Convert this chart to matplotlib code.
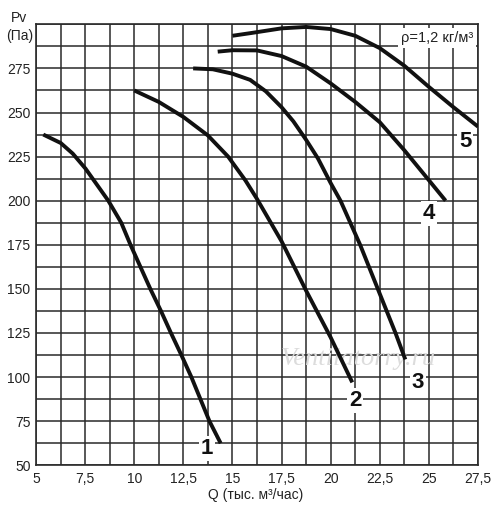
import matplotlib
matplotlib.use('Agg')
import matplotlib.pyplot as plt

plt.rcParams['font.family'] = ['Liberation Sans', 'DejaVu Sans']

# curves, Q in thousand m3/h, Pv in Pa
q1 = [5.37, 6.26, 6.87, 7.52, 8.68, 9.34, 9.81, 10.82, 11.36, 11.87, 12.4, 12.91, 13.37, 13.83, 14.4]
p1 = [237.5, 232.7, 226.7, 218.2, 200, 187.5, 175, 150, 137.5, 125, 112.5, 100, 87.5, 75, 62.5]

q2 = [10, 11.25, 12.5, 13.75, 14.78, 15.66, 16.25, 17.5, 18.75, 20, 21.1]
p2 = [262.5, 256, 247.5, 237, 225, 211.5, 201, 177, 149, 122.5, 97]

q3 = [13, 14, 15, 15.9, 16.7, 17.5, 18.1, 18.75, 19.35, 20, 20.5, 21.0, 21.5, 21.95, 22.4, 22.85, 23.3, 23.8]
p3 = [275, 274.5, 272, 268.5, 262, 253, 245, 234.5, 224, 210, 200, 187.5, 175, 162.5, 150, 137.5, 125, 110]

q4 = [14.25, 15, 16.25, 17.5, 18.75, 20, 21.25, 22.5, 23.75, 25, 25.85]
p4 = [284.5, 285.3, 285.2, 282, 276, 266.5, 256, 244.5, 228.6, 211.6, 200]

q5 = [15, 15.92, 17.5, 18.75, 20, 21.25, 22.5, 23.75, 25, 26.25, 27.5]
p5 = [293.5, 295, 297.7, 298.5, 297.3, 293.5, 286.5, 276.5, 264.5, 253, 242]

# curve numbers and where they sit
curve_names = ['1', '2', '3', '4', '5']
name_q = [13.7, 21.25, 24.45, 25.0, 26.85]
name_p = [59.5, 86.5, 97, 193, 233.5]

x_ticks = [5, 7.5, 10, 12.5, 15, 17.5, 20, 22.5, 25, 27.5]
x_labels = ['5', '7,5', '10', '12,5', '15', '17,5', '20', '22,5', '25', '27,5']
y_ticks = [50, 75, 100, 125, 150, 175, 200, 225, 250, 275]
y_labels = ['50', '75', '100', '125', '150', '175', '200', '225', '250', '275']

W, H = 500, 518
fig = plt.figure(figsize=(W / 100, H / 100), dpi=100)
ax = fig.add_axes([36 / W, 1 - 465.3 / H, (478 - 36) / W, (465.3 - 24.3) / H])

ax.set_xlim(5, 27.5)
ax.set_ylim(50, 300)
ax.set_xticks(x_ticks)
ax.set_xticklabels(x_labels)
ax.set_yticks(y_ticks)
ax.set_yticklabels(y_labels)
ax.set_xticks([x + 1.25 for x in x_ticks[:-1]], minor=True)
ax.set_yticks([y + 12.5 for y in y_ticks] + [300], minor=True)
ax.tick_params(which='both', length=0, labelsize=10, colors='#222222')
ax.tick_params(axis='x', pad=5)
ax.tick_params(axis='y', pad=4)
ax.grid(True, which='both', color='#2a2a2a', linewidth=1.1)
ax.set_axisbelow(True)
for s in ax.spines.values():
    s.set_color('#2a2a2a')
    s.set_linewidth(1.2)

for q, p in [(q1, p1), (q2, p2), (q3, p3), (q4, p4), (q5, p5)]:
    ax.plot(q, p, color='#111111', lw=2.8, solid_capstyle='butt',
            solid_joinstyle='round', zorder=3)

for name, q, p in zip(curve_names, name_q, name_p):
    ax.text(q, p, name, fontsize=16, fontweight='bold', ha='center', va='center',
            color='#111111', zorder=4,
            bbox=dict(facecolor='white', edgecolor='none', pad=1.5))

ax.text(27.25, 292.3, 'ρ=1,2 кг/м³', fontsize=10.5, ha='right', va='center',
        color='#222222', zorder=4,
        bbox=dict(facecolor='white', edgecolor='none', pad=2))

# faint watermark
ax.text(21.4, 110.5, 'Ventilatorry.ru', fontsize=19, style='italic',
        family='Liberation Serif', color='#dcdcdc', ha='center', va='center', zorder=2)

fig.text(19.5 / W, 1 - 27 / H, 'Pv\n(Па)', fontsize=10, ha='center', va='center',
         linespacing=1.4, color='#222222')
fig.text(256 / W, 1 - 495 / H, 'Q (тыс. м³/час)', fontsize=10, ha='center', va='center',
         color='#222222')

fig.savefig('out.png', dpi=100, facecolor='white')
